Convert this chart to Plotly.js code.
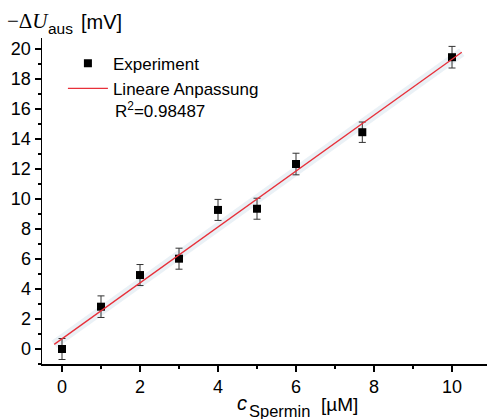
<!DOCTYPE html>
<html>
<head>
<meta charset="utf-8">
<script src="https://cdn.plot.ly/plotly-3.0.1.min.js"></script>
<style>html,body{margin:0;padding:0;background:#fff;}#chart{width:487px;height:419px;}</style>
</head>
<body>
<div id="chart"></div>
<script>
// Data
var concentration = [0, 1, 2, 3, 4, 5, 6, 7.7, 10];            // c_Spermin [µM]
var deltaU        = [0, 2.82, 4.93, 6.02, 9.27, 9.35, 12.33, 14.45, 19.45]; // -ΔU_aus [mV]
var deltaUErr     = [0.7, 0.72, 0.7, 0.7, 0.7, 0.7, 0.72, 0.68, 0.72];
var fitX          = [-0.2, 10.25];
var fitY          = [0.31, 19.78];
var xTicks        = [0, 2, 4, 6, 8, 10];
var yTicks        = [0, 2, 4, 6, 8, 10, 12, 14, 16, 18, 20];
var r2Label       = 'R<sup>2</sup>=0.98487';

var font = 'Liberation Sans, Arial, sans-serif';
var serif = 'Liberation Serif, Times New Roman, serif';

// plot-area geometry (pixels) used to place free text
var L = 42, B = 364, W = 445, H = 326;
function px(x) { return (x - L) / W; }
function py(y) { return (B - y) / H; }

var traces = [
  {
    x: fitX, y: fitY, mode: 'lines', showlegend: false, hoverinfo: 'skip',
    line: {color: 'rgba(195,215,228,0.35)', width: 9}
  },
  {
    x: concentration, y: deltaU, mode: 'markers', name: 'Experiment',
    marker: {symbol: 'square', size: 8, color: '#000'},
    error_y: {type: 'data', array: deltaUErr, visible: true, color: '#333', thickness: 1, width: 3.5}
  },
  {
    x: fitX, y: fitY, mode: 'lines', name: 'Lineare Anpassung',
    line: {color: '#e8303a', width: 1.3}
  }
];

var axisCommon = {
  showgrid: false, zeroline: false, showline: true, linecolor: '#000', linewidth: 1.5,
  ticks: 'outside', ticklen: 6, tickwidth: 1.3, tickcolor: '#000',
  tickfont: {family: font, size: 18, color: '#000'}, mirror: false
};

function txt(text, x, y, size, family) {
  return {
    xref: 'paper', yref: 'paper', x: px(x), y: py(y), xanchor: 'left', yanchor: 'middle',
    text: text, showarrow: false, borderpad: 0,
    font: {family: family || font, size: size, color: '#000'}
  };
}

var layout = {
  width: 487, height: 419,
  margin: {l: L, r: 0, t: 38, b: 419 - B},
  paper_bgcolor: '#fff', plot_bgcolor: '#fff',
  font: {family: font, color: '#000'},
  xaxis: Object.assign({}, axisCommon, {
    range: [-0.513, 10.897], tickvals: xTicks, ticktext: xTicks.map(String),
    minor: {dtick: 1, tick0: 1, ticks: 'outside', ticklen: 3, tickwidth: 1.2, tickcolor: '#000'}
  }),
  yaxis: Object.assign({}, axisCommon, {
    range: [-1, 20.73], tickvals: yTicks, ticktext: yTicks.map(String),
    minor: {dtick: 1, tick0: 1, ticks: 'outside', ticklen: 3, tickwidth: 1.2, tickcolor: '#000'}
  }),
  showlegend: true,
  legend: {
    x: 0.047, y: 0.976, xanchor: 'left', yanchor: 'top',
    bgcolor: 'rgba(0,0,0,0)', font: {family: font, size: 17, color: '#000'},
    tracegroupgap: 0, itemwidth: 40
  },
  annotations: [
    txt(r2Label, 114, 110, 17),
    // y-axis title: −ΔU_aus [mV]
    txt('−Δ<i>U</i>', 6, 21, 21, serif),
    txt('aus', 47, 29, 15.5),
    txt('[mV]', 80, 22, 20),
    // x-axis title: c_Spermin [µM]
    txt('<i>c</i>', 236, 403, 20),
    txt('Spermin', 248, 411, 16.5),
    txt('[µM]', 320, 404, 19)
  ]
};

Plotly.newPlot('chart', traces, layout, {staticPlot: true, displayModeBar: false});
</script>
</body>
</html>
